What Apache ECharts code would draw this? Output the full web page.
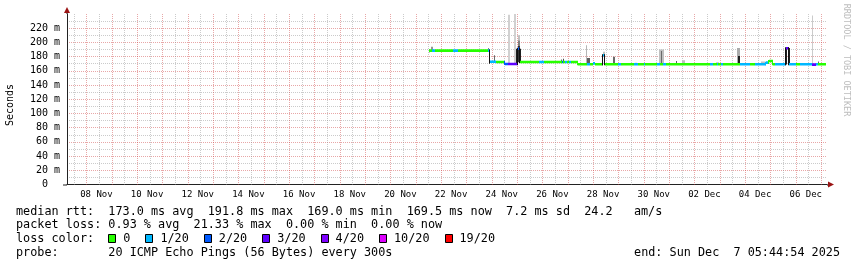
<!DOCTYPE html>
<html><head><meta charset="utf-8">
<script src="https://cdn.jsdelivr.net/npm/echarts@6/dist/echarts.min.js"></script>
<style>html,body{margin:0;padding:0;background:#fff}#c{width:857px;height:267px}</style>
</head><body><div id="c"></div>
<script>
// ---------------- data ----------------
const startTime = '2025-11-07 05:44:54';
const endTime = '2025-12-07 05:44:54';
const monthNames = ['Jan','Feb','Mar','Apr','May','Jun','Jul','Aug','Sep','Oct','Nov','Dec'];

// median rtt (ms) as steps: each value holds from its start time until the next start
const medianStart = [
 '2025-11-21 12:40','2025-11-21 15:30','2025-11-21 18:20','2025-11-22 11:50','2025-11-22 16:10',
 '2025-11-23 20:30','2025-11-23 22:30','2025-11-24 04:10','2025-11-24 12:40','2025-11-24 15:10',
 '2025-11-25 00:40','2025-11-25 02:40','2025-11-25 20:50','2025-11-26 01:30','2025-11-26 18:40',
 '2025-11-26 19:40','2025-11-26 21:30','2025-11-26 23:20','2025-11-27 01:10','2025-11-27 03:00',
 '2025-11-27 09:45','2025-11-27 18:10','2025-11-27 21:10','2025-11-27 23:40','2025-11-28 02:00',
 '2025-11-28 09:20','2025-11-28 11:20','2025-11-28 23:40','2025-11-29 02:30','2025-11-29 14:45',
 '2025-11-29 18:30','2025-11-30 00:40','2025-11-30 01:40','2025-11-30 13:10','2025-11-30 15:50',
 '2025-11-30 18:00','2025-11-30 21:30','2025-12-02 14:40','2025-12-02 17:30','2025-12-02 21:20',
 '2025-12-02 22:40','2025-12-03 01:10','2025-12-03 03:00','2025-12-03 19:05','2025-12-04 04:30',
 '2025-12-04 09:15','2025-12-04 20:25','2025-12-04 22:30','2025-12-05 03:00','2025-12-05 04:50',
 '2025-12-05 15:10','2025-12-05 17:20','2025-12-06 00:50','2025-12-06 04:35','2025-12-06 16:00',
 '2025-12-06 19:00','2025-12-06 21:15'
];
const medianEnd = '2025-12-07 05:00';
const medianMs = [
 188.5,188.5,188.5,188.5,188.5,
 188.5,172.8,172.4,169.6,169.6,
 191.0,172.4,172.4,172.4,172.4,
 172.4,172.4,172.4,172.4,172.4,
 169.2,169.2,169.2,170.5,169.2,
 182.0,169.2,169.2,169.2,169.2,
 169.2,169.2,169.2,169.2,169.2,
 169.2,169.2,169.2,169.2,169.2,
 169.2,169.2,169.2,169.2,169.2,
 169.2,171.5,173.8,169.2,169.2,
 191.8,169.2,169.2,169.2,168.8,
 169.2,169.2
];
// lost pings out of 20 for each step
const medianLoss = [
 0,1,0,1,0,
 1,1,0,2,3,
 2,0,1,0,2,
 0,1,0,1,0,
 0,1,0,1,0,
 1,0,1,0,1,
 0,1,0,1,0,
 1,0,1,0,1,
 0,1,0,1,0,
 1,1,0,0,1,
 3,1,0,1,3,
 1,0
];

// smoke (spread of the individual pings): time span, low/high ms, density 0..1
const smokeStart = [
 '2025-11-21 12:40','2025-11-21 14:20','2025-11-23 20:30','2025-11-23 21:40','2025-11-24 02:30',
 '2025-11-24 15:10','2025-11-24 21:00','2025-11-24 23:30','2025-11-25 00:40','2025-11-25 00:40',
 '2025-11-25 00:40','2025-11-25 02:40','2025-11-26 17:50','2025-11-26 19:50','2025-11-27 17:00',
 '2025-11-27 18:20','2025-11-28 08:20','2025-11-28 09:20','2025-11-28 18:55','2025-11-29 15:30',
 '2025-11-30 14:30','2025-11-30 16:20','2025-12-01 07:00','2025-12-01 12:30','2025-12-02 14:00',
 '2025-12-02 21:00','2025-12-03 16:30','2025-12-03 17:00','2025-12-04 15:00','2025-12-05 14:40',
 '2025-12-05 17:20','2025-12-06 15:30','2025-12-06 21:30'
];
const smokeEnd = [
 '2025-11-21 13:30','2025-11-21 16:20','2025-11-23 21:30','2025-11-23 22:40','2025-11-24 03:30',
 '2025-11-24 17:40','2025-11-24 23:20','2025-11-25 00:40','2025-11-25 02:40','2025-11-25 02:40',
 '2025-11-25 02:40','2025-11-25 03:30','2025-11-26 18:40','2025-11-26 20:40','2025-11-27 18:00',
 '2025-11-27 20:50','2025-11-28 09:20','2025-11-28 11:20','2025-11-28 20:50','2025-11-29 18:00',
 '2025-11-30 19:30','2025-11-30 17:40','2025-12-01 08:00','2025-12-01 15:00','2025-12-02 15:00',
 '2025-12-02 23:00','2025-12-03 19:00','2025-12-03 19:00','2025-12-04 19:00','2025-12-05 15:10',
 '2025-12-05 17:50','2025-12-06 16:40','2025-12-06 22:20'
];
const smokeLow = [
 186,187,188,170,172,
 170,170,169,195,203,
 172,172,172,172,169,
 169,169,182,169,169,
 169,169,169,169,169,
 169,169,169,169,169,
 169,169,169
];
const smokeHigh = [
 190,194,192,188,182,
 239,240,191,203,210,
 195,191,176,177,196,
 178,182,187,180,171.5,
 190,188,174,175,171,
 172,192,181,173,192,
 192,238,173
];
const smokeDensity = [
 0.9,0.4,0.5,0.95,0.6,
 0.12,0.12,0.95,0.5,0.2,
 0.85,0.95,0.6,0.7,0.25,
 0.65,0.95,0.2,0.6,0.2,
 0.2,0.6,0.65,0.2,0.2,
 0.2,0.3,0.95,0.2,0.95,
 0.95,0.15,0.6
];

const yTicksMs = [0,20,40,60,80,100,120,140,160,180,200,220,240];
const lossLevels = [0,1,2,3,4,10,19];
const lossLabels = ['0','1/20','2/20','3/20','4/20','10/20','19/20'];
const rttStats = ['173.0 ms avg','191.8 ms max','169.0 ms min','169.5 ms now','7.2 ms sd','24.2   am/s'];
const lossStats = ['0.93 % avg','21.33 % max','0.00 % min','0.00 % now'];
const probeText = '20 ICMP Echo Pings (56 Bytes) every 300s';
const endText = 'end: Sun Dec  7 05:44:54 2025';
const yAxisName = 'Seconds';
const watermark = 'RRDTOOL / TOBI OETIKER';

// ---------------- styles ----------------
const lossColors = {0:'#26ff00',1:'#00b8ff',2:'#0059ff',3:'#5e00ff',4:'#7e00ff',10:'#dd00ff',19:'#ff0000'};
const MONO = '"DejaVu Sans Mono", monospace';
const majorGrid = 'rgba(205,60,60,0.45)';
const minorGrid = 'rgba(140,140,140,0.45)';
const arrowColor = '#9b1414';

function T(s){
  const m = s.match(/(\d+)-(\d+)-(\d+) (\d+):(\d+)(?::(\d+))?/);
  return new Date(+m[1], +m[2]-1, +m[3], +m[4], +m[5], +(m[6]||0)).getTime();
}
function pad2(n){return (n<10?'0':'')+n;}

const medianData = medianStart.map((s,i)=>[
  T(s), T(i+1<medianStart.length?medianStart[i+1]:medianEnd), medianMs[i]/1000, medianLoss[i],
  i>0?medianMs[i-1]/1000:medianMs[i]/1000
]);
const smokeData = smokeStart.map((s,i)=>[T(s),T(smokeEnd[i]),smokeLow[i]/1000,smokeHigh[i]/1000,smokeDensity[i]]);

// vertical grid positions: every 12 h, midnight = major
const vGrid = [];
(function(){
  const d = new Date(T(startTime)); d.setMinutes(0,0,0);
  d.setHours(d.getHours()<12 ? 12 : 24);
  const end = T(endTime);
  while (d.getTime() < end) {
    vGrid.push([d.getTime(), d.getHours()===0 ? 1 : 0]);
    d.setHours(d.getHours()+12);
  }
})();

const chart = echarts.init(document.getElementById('c'), null, {renderer:'canvas'});

const G = {left:67, right:30, top:14, bottom:82.5};
const W = 857, H = 267;
const plotRight = W - G.right, plotBottom = H - G.bottom;
const YMAX = yTicksMs[yTicksMs.length-1]/1000;

const graphics = [];
graphics.push({type:'polygon', shape:{points:[[G.left-3,G.top-1],[G.left+3,G.top-1],[G.left,G.top-7]]}, style:{fill:arrowColor}, z:100});
graphics.push({type:'polygon', shape:{points:[[plotRight+1,plotBottom-3],[plotRight+1,plotBottom+3],[plotRight+7,plotBottom]]}, style:{fill:arrowColor}, z:100});
graphics.push({type:'line', shape:{x1:G.left,y1:G.top,x2:G.left,y2:G.top-1}, style:{stroke:'#222',lineWidth:1}});
graphics.push({type:'line', shape:{x1:plotRight,y1:plotBottom+0.5,x2:plotRight+1,y2:plotBottom+0.5}, style:{stroke:'#222',lineWidth:1}});
graphics.push({type:'line', shape:{x1:G.left-4,y1:plotBottom+0.5,x2:G.left,y2:plotBottom+0.5}, style:{stroke:'#222',lineWidth:1}});
graphics.push({type:'text', x:10.5, y:105, rotation:Math.PI/2,
  style:{text:yAxisName, font:'10px '+MONO, fill:'#000', align:'center', verticalAlign:'middle'}});
graphics.push({type:'text', x:846.5, y:60, rotation:-Math.PI/2,
  style:{text:watermark, font:'8.5px '+MONO, fill:'#bdbdbd', align:'center', verticalAlign:'middle'}});
const LF = '11.8px '+MONO, CW = 7.1, LX = 16;
const rows = [211.5, 225.2, 239.2, 252.8];
graphics.push({type:'text', x:LX, y:rows[0], style:{text:'median rtt:  '+rttStats.join('  '), font:LF, fill:'#000', verticalAlign:'middle'}});
graphics.push({type:'text', x:LX, y:rows[1], style:{text:'packet loss: '+lossStats.join('  '), font:LF, fill:'#000', verticalAlign:'middle'}});
graphics.push({type:'text', x:LX, y:rows[2], style:{text:'loss color:', font:LF, fill:'#000', verticalAlign:'middle'}});
let bx = LX + 13*CW;
lossLevels.forEach((lv,i)=>{
  graphics.push({type:'rect', shape:{x:Math.round(bx)+0.5, y:234.5, width:7, height:8}, style:{fill:lossColors[lv], stroke:'#000', lineWidth:1}});
  const tx = bx + 15;
  graphics.push({type:'text', x:tx, y:rows[2], style:{text:lossLabels[i], font:LF, fill:'#000', verticalAlign:'middle'}});
  bx = tx + lossLabels[i].length*CW + 15;
});
graphics.push({type:'text', x:LX, y:rows[3], style:{text:'probe:       '+probeText, font:LF, fill:'#000', verticalAlign:'middle'}});
graphics.push({type:'text', x:840, y:rows[3], style:{text:endText, font:LF, fill:'#000', align:'right', verticalAlign:'middle'}});

const HOUR = 3600*1000;
const option = {
  animation:false,
  backgroundColor:'#ffffff',
  grid:{left:G.left, right:G.right, top:G.top, bottom:G.bottom, outerBoundsMode:'none', containLabel:false},
  xAxis:{
    type:'time', min:T(startTime), max:T(endTime), minInterval:12*HOUR, maxInterval:12*HOUR, splitNumber:60,
    axisLine:{show:true, lineStyle:{color:'#222', width:1}},
    axisTick:{show:false},
    axisLabel:{
      fontFamily:MONO, fontSize:9, color:'#000', margin:6, hideOverlap:false, padding:[0,5,0,0],
      showMinLabel:false, showMaxLabel:false,
      formatter:function(v){
        const d = new Date(v);
        if (d.getHours()===12 && d.getMinutes()===0 && d.getDate()%2===0) return pad2(d.getDate())+' '+monthNames[d.getMonth()];
        return '';
      }
    },
    splitLine:{show:false}
  },
  yAxis:{
    type:'value', min:0, max:YMAX, interval:0.02,
    axisLine:{show:true, lineStyle:{color:'#222', width:1}},
    axisTick:{show:false},
    axisLabel:{fontFamily:MONO, fontSize:10, color:'#000', margin:7, showMaxLabel:false,
      formatter:function(v){
        const ms = Math.round(v*1000);
        if (ms===0) return '  0  ';
        let s = String(ms); while (s.length<3) s=' '+s;
        return s+' m';
      }},
    splitLine:{show:true, showMinLine:false, showMaxLine:false, lineStyle:{color:majorGrid, type:[1,1], width:1}},
    minorTick:{show:false, splitNumber:2},
    minorSplitLine:{show:true, lineStyle:{color:minorGrid, type:[1,1], width:1}}
  },
  series:[
    {
      type:'custom', name:'vgrid', z:1, silent:true, clip:false,
      data:vGrid, encode:{x:0},
      renderItem:function(params, api){
        const top = api.coord([api.value(0), YMAX]);
        const bot = api.coord([api.value(0), 0]);
        const x = Math.round(top[0]) + 0.5;
        return {type:'line', shape:{x1:x, y1:Math.round(top[1]), x2:x, y2:Math.round(bot[1])},
          style:{stroke: api.value(1)===1 ? majorGrid : minorGrid, lineWidth:1, lineDash:[1,1]}};
      }
    },
    {
      type:'custom', name:'smoke', z:2, clip:true,
      data:smokeData,
      encode:{x:[0,1], y:[2,3]},
      renderItem:function(params, api){
        const p0 = api.coord([api.value(0), api.value(3)]);
        const p1 = api.coord([api.value(1), api.value(2)]);
        const x0 = Math.round(p0[0]);
        const w = Math.max(1, Math.round(p1[0]) - x0);
        const g = Math.round(235 - api.value(4)*215);
        return {type:'rect', shape:{x:x0, y:p0[1], width:w, height:p1[1]-p0[1]},
          style:{fill:'rgb('+g+','+g+','+g+')'}};
      }
    },
    {
      type:'custom', name:'median', z:3, clip:true,
      data:medianData,
      encode:{x:[0,1], y:2},
      renderItem:function(params, api){
        const v = api.value(2), pv = api.value(4);
        const p0 = api.coord([api.value(0), v]);
        const p1 = api.coord([api.value(1), v]);
        const pp = api.coord([api.value(0), pv]);
        const col = lossColors[api.value(3)];
        const x0 = Math.round(p0[0]);
        const w = Math.max(1, Math.round(p1[0]) - x0);
        const children = [{type:'rect', shape:{x:x0, y:p0[1]-1.3, width:w, height:2.6}, style:{fill:col}}];
        const jump = Math.abs(pp[1]-p0[1]);
        if (jump>1.5) {
          children.push({type:'rect', shape:{x:x0-1, y:Math.min(pp[1],p0[1])-1, width:1, height:jump+2},
            style:{fill: jump>5 ? '#111' : col}});
        }
        return {type:'group', children:children};
      }
    }
  ],
  graphic:graphics
};
chart.setOption(option);
</script>
</body></html>
